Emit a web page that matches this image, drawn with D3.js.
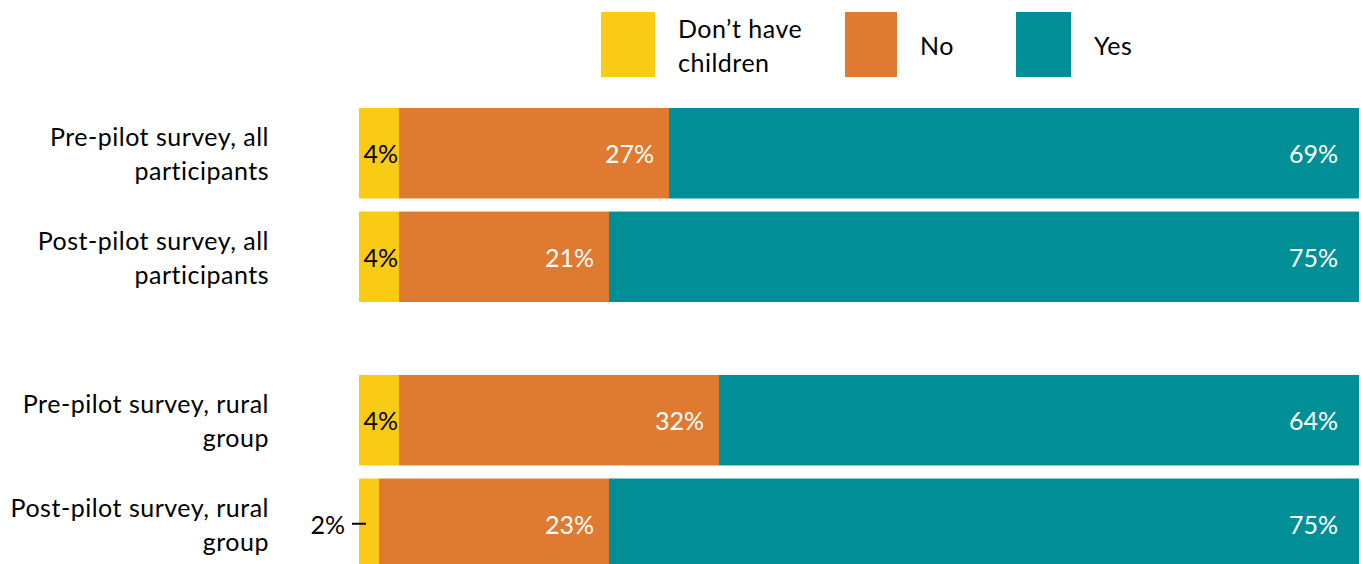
<!DOCTYPE html>
<html>
<head>
<meta charset="utf-8">
<script src="https://cdn.jsdelivr.net/npm/d3@7"></script>
<style>
  body { margin: 0; background: #fff; }
  svg text { font-family: Lato, "Open Sans", sans-serif; }
  .cat, .ley { letter-spacing: 0.5px; }
</style>
</head>
<body>
<svg id="contenedor"></svg>
<script>
// datos del grafico
let grupos = ["todos", "rural"];
let categorias = [
  ["Pre-pilot survey, all", "participants"],
  ["Post-pilot survey, all", "participants"],
  ["Pre-pilot survey, rural", "group"],
  ["Post-pilot survey, rural", "group"]
];
let grupoDeCategoria = ["todos", "todos", "rural", "rural"];
let series = ["Don\u2019t have children", "No", "Yes"];
let sinHijos = [4, 4, 4, 2];
let no = [27, 21, 32, 23];
let si = [69, 75, 64, 75];

let colores = ["#FACB14", "#E07A31", "#008F96"];

// configuracion del area de dibujo
let width = 1361, height = 564;
let margin = { top: 108, left: 359, right: 2 };
let svg = d3.select("#contenedor").attr("width", width).attr("height", height);

// escalas
let xScale = d3.scaleLinear().domain([0, 100]).range([margin.left, margin.left + 1000]);
let grupoScale = d3.scaleBand().domain(grupos).range([108, 569]).paddingInner(0.273);
let filaScale = d3.scaleBand().domain([0, 1]).range([0, grupoScale.bandwidth()]).paddingInner(0.126);

// construir filas apiladas
let filas = categorias.map((c, i) => ({
  nombre: c,
  grupo: grupoDeCategoria[i],
  pos: i % 2,
  valores: [sinHijos[i], no[i], si[i]]
}));
let stack = d3.stack().keys([0, 1, 2]).value((d, k) => d.valores[k]);
let capas = stack(filas);

let yFila = (d) => grupoScale(d.grupo) + filaScale(d.pos);
let bh = filaScale.bandwidth();

// barras
capas.forEach((capa, k) => {
  svg.append("g")
    .selectAll("rect")
    .data(capa)
    .enter()
    .append("rect")
    .attr("x", (d) => xScale(d[0]))
    .attr("y", (d) => yFila(d.data))
    .attr("width", (d) => xScale(d[1]) - xScale(d[0]))
    .attr("height", bh)
    .attr("fill", colores[k]);
});

// etiquetas de datos
let margenEtiqueta = [1, 15, 21];
capas.forEach((capa, k) => {
  capa.forEach((d) => {
    let v = d.data.valores[k];
    let cy = yFila(d.data) + bh / 2;
    if (k === 0 && v < 3) {
      // etiqueta fuera con linea guia
      svg.append("line")
        .attr("x1", xScale(d[0]) - 7).attr("x2", xScale(d[1]) - 13)
        .attr("y1", cy).attr("y2", cy)
        .attr("stroke", "#000").attr("stroke-width", 2);
      svg.append("text")
        .attr("x", xScale(d[0]) - 14).attr("y", cy)
        .attr("text-anchor", "end").attr("dominant-baseline", "central")
        .attr("font-size", 25).attr("fill", "#000")
        .text(v + "%");
      return;
    }
    svg.append("text")
      .attr("x", xScale(d[1]) - margenEtiqueta[k])
      .attr("y", cy)
      .attr("text-anchor", "end").attr("dominant-baseline", "central")
      .attr("font-size", 25)
      .attr("fill", k === 0 ? "#000" : "#fff")
      .text(v + "%");
  });
});

// etiquetas de categorias
filas.forEach((d) => {
  let cy = yFila(d) + bh / 2;
  let t = svg.append("text").attr("class", "cat")
    .attr("x", 269).attr("y", cy - 17)
    .attr("text-anchor", "end").attr("font-size", 25).attr("fill", "#000");
  d.nombre.forEach((linea, j) => {
    t.append("tspan").attr("x", 269).attr("dy", j === 0 ? 0 : 34)
      .attr("dominant-baseline", "central").text(linea);
  });
});

// leyenda
let leyenda = [
  { x: 601, w: 54, lineas: ["Don\u2019t have", "children"] },
  { x: 845, w: 52, lineas: ["No"] },
  { x: 1016, w: 55, lineas: ["Yes"] }
];
leyenda.forEach((l, k) => {
  svg.append("rect").attr("x", l.x).attr("y", 12).attr("width", l.w).attr("height", 65)
    .attr("fill", colores[k]);
  let t = svg.append("text").attr("class", "ley").attr("font-size", 25).attr("fill", "#000");
  let ty = l.lineas.length > 1 ? 28 : 45;
  l.lineas.forEach((linea, j) => {
    t.append("tspan").attr("x", l.x + l.w + 23).attr("y", ty + j * 34)
      .attr("dominant-baseline", "central").text(linea);
  });
});
</script>
</body>
</html>
